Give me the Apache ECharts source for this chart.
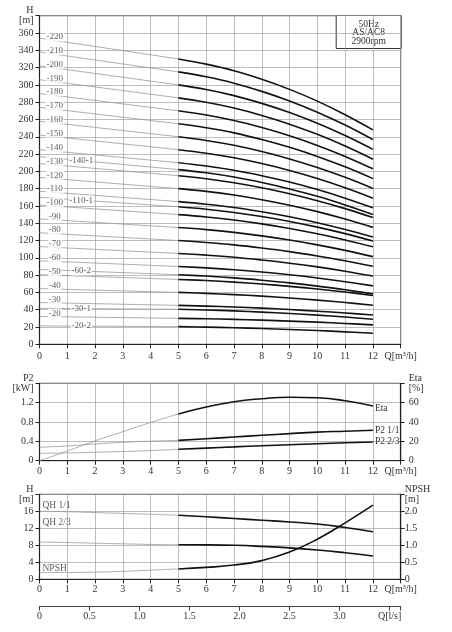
<!DOCTYPE html>
<html>
<head>
<meta charset="utf-8">
<script src="https://cdn.jsdelivr.net/npm/echarts@6/dist/echarts.min.js"></script>
<style>
html, body { margin: 0; padding: 0; background: #fff; }
#main { width: 452px; height: 632px; }
</style>
</head>
<body>
<div id="main"></div>
<script>
// 泵的性能曲线: H-Q, P2/Eta-Q, QH/NPSH-Q
var qStage = [0, 5, 6, 7, 8, 9, 10, 11, 12];
var stageNames = ['-220', '-210', '-200', '-190', '-180', '-170', '-160', '-150', '-140', '-140-1',
    '-130', '-120', '-110', '-110-1', '-100', '-90', '-80', '-70', '-60', '-60-2',
    '-50', '-40', '-30', '-30-1', '-20', '-20-2'];
var stageHead = [
    [354, 330, 324, 316.4, 306.5, 294.8, 281.2, 265.5, 248],
    [338, 315, 309.3, 302, 292.5, 281.4, 268.4, 253.5, 236.7],
    [322, 300, 294.6, 287.6, 278.6, 268, 255.6, 241.4, 225.4],
    [306, 285, 279.9, 273.2, 264.7, 254.6, 242.8, 229.3, 214.1],
    [290, 270, 265.1, 258.8, 250.7, 241.2, 230, 217.3, 202.9],
    [274, 255, 250.4, 244.5, 236.8, 227.8, 217.3, 205.2, 191.6],
    [258, 240, 235.7, 230.1, 222.9, 214.4, 204.5, 193.1, 180.3],
    [242, 225, 221, 215.7, 209, 201, 191.7, 181, 169],
    [225, 210, 206.2, 201.3, 195, 187.6, 178.9, 169, 157.8],
    [217, 202, 198.3, 193.4, 187.1, 179.7, 171.1, 161.1, 150],
    [209, 195, 191.5, 186.9, 181.1, 174.2, 166.1, 156.9, 146.5],
    [193, 180, 176.8, 172.6, 167.2, 160.8, 153.4, 144.8, 135.2],
    [177, 165, 162, 158.2, 153.2, 147.4, 140.6, 132.8, 124],
    [170, 159, 156.2, 152.4, 147.7, 142.1, 135.5, 128, 119.5],
    [161, 150, 147.3, 143.8, 139.3, 134, 127.8, 120.7, 112.7],
    [145, 135, 132.6, 129.4, 125.4, 120.6, 115, 108.6, 101.4],
    [129, 120, 117.8, 115, 111.4, 107.2, 102.2, 96.6, 90.2],
    [113, 105, 103.1, 100.7, 97.5, 93.8, 89.5, 84.5, 78.9],
    [96.6, 90, 88.4, 86.3, 83.6, 80.4, 76.7, 72.4, 67.6],
    [86.5, 80.5, 78.9, 76.8, 74.1, 71, 67.3, 63, 58.3],
    [80.5, 75, 73.7, 71.9, 69.7, 67, 63.9, 60.4, 56.4],
    [64.4, 60, 58.9, 57.5, 55.7, 53.6, 51.1, 48.3, 45.1],
    [48.3, 45, 44.2, 43.1, 41.8, 40.2, 38.3, 36.2, 33.8],
    [41.6, 40.5, 39.7, 38.6, 37.2, 35.6, 33.7, 31.5, 29],
    [32.2, 30, 29.5, 28.8, 27.9, 26.8, 25.6, 24.1, 22.5],
    [21.3, 20.4, 19.9, 19.1, 18.2, 17.1, 15.9, 14.4, 12.8]
];

var qThin = [0, 1, 2, 3, 4, 5];
var qThick = [5, 6, 7, 8, 9, 10, 11, 12];
var etaThin = [0, 10, 20.5, 30, 39.5, 48.3];
var etaThick = [48.3, 55.5, 61, 64, 65.6, 65, 62, 56.6];
var p2FullThin = [0.277, 0.305, 0.346, 0.38, 0.405, 0.42];
var p2FullThick = [0.42, 0.455, 0.49, 0.525, 0.56, 0.59, 0.61, 0.63];
var p2RedThin = [0.153, 0.16, 0.175, 0.19, 0.21, 0.236];
var p2RedThick = [0.236, 0.26, 0.285, 0.31, 0.33, 0.35, 0.37, 0.387];
var qhFullThin = [16.0, 15.9, 15.7, 15.5, 15.3, 15.06];
var qhFullThick = [15.06, 14.7, 14.3, 13.9, 13.5, 13.0, 12.2, 11.2];
var qhRedThin = [8.76, 8.65, 8.5, 8.35, 8.2, 8.12];
var qhRedThick = [8.12, 8.1, 8.0, 7.75, 7.4, 6.9, 6.25, 5.5];
var npshThin = [0.2, 0.2, 0.21, 0.235, 0.27, 0.305];
var npshThick = [0.305, 0.35, 0.42, 0.55, 0.8, 1.18, 1.66, 2.18];

var FONT = 'Liberation Serif';
var TXT = '#333';
var gridL = 39.5, gridW = 361.2;

function zip(xs, ys) {
    return xs.map(function (x, i) { return [x, ys[i]]; });
}

function qAxis(gi, margin) {
    return {
        type: 'value', gridIndex: gi, min: 0, max: 13, interval: 1,
        axisLine: { show: true, onZero: false, lineStyle: { color: '#222', width: 1.2 } },
        axisTick: { show: true, length: 4, lineStyle: { color: '#222' } },
        axisLabel: {
            margin: margin, fontFamily: FONT, fontSize: 10, color: TXT,
            formatter: function (v) { return v === 13 ? 'Q[m³/h]' : String(v); }
        },
        splitLine: { show: true, lineStyle: { color: '#a0a0a0', width: 0.7 } }
    };
}

function vAxis(gi, pos, max, step, fmt, margin, split) {
    return {
        type: 'value', gridIndex: gi, position: pos, min: 0, max: max, interval: step,
        axisLine: { show: true, onZero: false, lineStyle: { color: '#222', width: 1.2 } },
        axisTick: { show: true, length: 4, lineStyle: { color: '#222' } },
        axisLabel: { margin: margin, fontFamily: FONT, fontSize: 10, color: TXT, lineHeight: 10, formatter: fmt },
        splitLine: { show: split, lineStyle: { color: '#a0a0a0', width: 0.7 } }
    };
}

function curve(xi, yi, data, thick, smooth) {
    return {
        type: 'line', xAxisIndex: xi, yAxisIndex: yi, data: data,
        showSymbol: false, symbol: 'none', smooth: smooth, silent: true,
        lineStyle: thick ? { color: '#111', width: 1.6 } : { color: '#999', width: 0.8 },
        z: thick ? 3 : 2
    };
}

function textMarks(xi, yi, items) {
    return {
        type: 'scatter', xAxisIndex: xi, yAxisIndex: yi, symbolSize: 0, silent: true, z: 6,
        data: items
    };
}

var series = [];

// 上图: 各级数的 H-Q 曲线
var stageLabels = [];
stageNames.forEach(function (name, i) {
    var h = stageHead[i];
    series.push(curve(0, 0, [[qStage[0], h[0]], [qStage[1], h[1]]], false, false));
    series.push(curve(0, 0, zip(qStage.slice(1), h.slice(1)), true, 0.4));
    var variant = name.split('-').length > 2;
    var lq = variant ? 1.5 : 0.55;
    var lh = h[0] + (h[1] - h[0]) * lq / (qStage[1] - qStage[0]);
    stageLabels.push({
        value: [lq, lh],
        label: {
            show: true, position: 'inside', formatter: name, offset: [0, variant ? 0 : -3.5],
            fontFamily: FONT, fontSize: 9, color: TXT, backgroundColor: '#fff', padding: [0, 1]
        }
    });
});
series.push(textMarks(0, 0, stageLabels));

// 中图: P2 和 Eta
function endLab(txt, dy) {
    return { show: true, formatter: txt, distance: 2, offset: [0, dy], fontFamily: FONT, fontSize: 9.5, color: TXT };
}
var s;
series.push(curve(1, 2, zip(qThin, etaThin), false, true));
s = curve(1, 2, zip(qThick, etaThick), true, true); s.endLabel = endLab('Eta', 3); series.push(s);
series.push(curve(1, 1, zip(qThin, p2FullThin), false, true));
s = curve(1, 1, zip(qThick, p2FullThick), true, true); s.endLabel = endLab('P2 1/1', 0); series.push(s);
series.push(curve(1, 1, zip(qThin, p2RedThin), false, true));
s = curve(1, 1, zip(qThick, p2RedThick), true, true); s.endLabel = endLab('P2 2/3', 0); series.push(s);

// 下图: QH 和 NPSH
series.push(curve(2, 3, zip(qThin, qhFullThin), false, true));
series.push(curve(2, 3, zip(qThick, qhFullThick), true, true));
series.push(curve(2, 3, zip(qThin, qhRedThin), false, true));
series.push(curve(2, 3, zip(qThick, qhRedThick), true, true));
series.push(curve(2, 4, zip(qThin, npshThin), false, true));
series.push(curve(2, 4, zip(qThick, npshThick), true, true));

function leftLab(txt, dy) {
    return { show: true, position: 'right', distance: 3, offset: [0, dy], formatter: txt, fontFamily: FONT, fontSize: 9.5, color: TXT };
}
series.push(textMarks(2, 3, [
    { value: [qThin[0], qhFullThin[0]], label: leftLab('QH 1/1', -6) },
    { value: [qThin[0], qhRedThin[0]], label: leftLab('QH 2/3', -19.5) }
]));
series.push(textMarks(2, 4, [
    { value: [qThin[0], npshThin[0]], label: leftLab('NPSH', -4.5) }
]));
series.push({ type: 'line', xAxisIndex: 3, yAxisIndex: 5, data: [] });

var chart = echarts.init(document.getElementById('main'));
var option = {
    animation: false,
    backgroundColor: '#fff',
    grid: [
        { left: gridL, top: 15.7, width: gridW, height: 328.6, show: true, borderColor: '#333', borderWidth: 1, outerBoundsMode: 'none' },
        { left: gridL, top: 383.3, width: gridW, height: 77.4, show: true, borderColor: '#333', borderWidth: 1, outerBoundsMode: 'none' },
        { left: gridL, top: 494.3, width: gridW, height: 85, show: true, borderColor: '#333', borderWidth: 1, outerBoundsMode: 'none' },
        { left: gridL, top: 605.7, width: gridW, height: 1, show: false, outerBoundsMode: 'none' }
    ],
    xAxis: [
        qAxis(0, 7),
        qAxis(1, 6),
        qAxis(2, 5),
        {
            type: 'value', gridIndex: 3, min: 0, max: 13 / 3.6, interval: 0.5,
            axisLine: { show: true, onZero: false, lineStyle: { color: '#444', width: 1.2 } },
            axisTick: { show: true, length: 4, lineStyle: { color: '#444' } },
            axisLabel: {
                margin: 5, fontFamily: FONT, fontSize: 10, color: TXT,
                formatter: function (v) {
                    if (Math.abs(v - 3.5) < 1e-6) return 'Q[l/s]';
                    var k = Math.round(v / 0.5);
                    if (Math.abs(v - k * 0.5) > 1e-6) return '';
                    return v === 0 ? '0' : v.toFixed(1);
                }
            },
            splitLine: { show: false }
        }
    ],
    yAxis: [
        vAxis(0, 'left', 380, 20, function (v) { return v === 380 ? 'H\n[m]' : String(v); }, 6, true),
        vAxis(1, 'left', 1.6, 0.4, function (v) { return v > 1.59 ? 'P2\n[kW]' : (v === 0 ? '0' : v.toFixed(1)); }, 6, true),
        vAxis(1, 'right', 80, 20, function (v) { return v === 80 ? 'Eta\n[%]' : String(v); }, 8, false),
        vAxis(2, 'left', 20, 4, function (v) { return v === 20 ? 'H\n[m]' : String(v); }, 6, true),
        vAxis(2, 'right', 2.5, 0.5, function (v) { return v > 2.49 ? 'NPSH\n[m]' : (v === 0 ? '0' : v.toFixed(1)); }, 4, false),
        { type: 'value', gridIndex: 3, show: false, min: 0, max: 1 }
    ],
    graphic: [{
        type: 'group', left: 335.7, top: 15, z: 100,
        children: [
            { type: 'rect', shape: { x: 0, y: 0, width: 65, height: 33 }, style: { fill: '#fff', stroke: '#333', lineWidth: 1 } },
            { type: 'text', style: { x: 32.5, y: 8.7, text: '50Hz', align: 'center', verticalAlign: 'middle', fontFamily: FONT, fontSize: 9.5, fill: TXT } },
            { type: 'text', style: { x: 32.5, y: 17, text: 'AS/AC8', align: 'center', verticalAlign: 'middle', fontFamily: FONT, fontSize: 9.5, fill: TXT } },
            { type: 'text', style: { x: 32.5, y: 26, text: '2900rpm', align: 'center', verticalAlign: 'middle', fontFamily: FONT, fontSize: 9.5, fill: TXT } }
        ]
    }],
    series: series
};
chart.setOption(option);
</script>
</body>
</html>
